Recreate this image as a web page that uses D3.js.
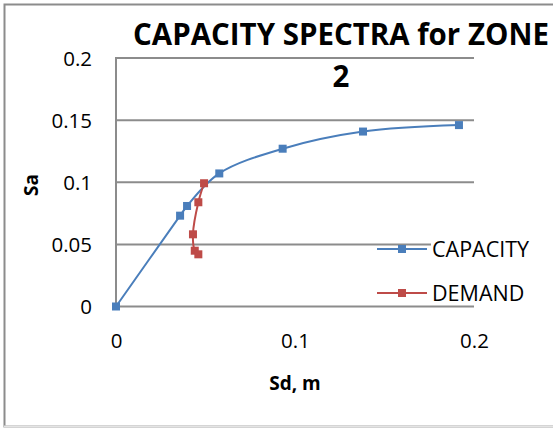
<!DOCTYPE html>
<html>
<head>
<meta charset="utf-8">
<script src="https://cdn.jsdelivr.net/npm/d3@7"></script>
<style>
  html, body { margin: 0; padding: 0; background: #fff; }
  svg { display: block; }
</style>
</head>
<body>
<svg id="chart" width="553" height="428"></svg>
<script>
// Spectral displacement (m) and spectral acceleration for each curve
const capacitySd = [0, 0.0358, 0.0397, 0.0577, 0.0931, 0.1380, 0.1916];
const capacitySa = [0, 0.0731, 0.0809, 0.1071, 0.1270, 0.1408, 0.1460];
const demandSd = [0.0492, 0.0460, 0.0430, 0.0440, 0.0460];
const demandSa = [0.0992, 0.0839, 0.0581, 0.0449, 0.0420];

const xTicks = [0, 0.1, 0.2];
const yTicks = [0, 0.05, 0.1, 0.15, 0.2];
const seriesNames = ["CAPACITY", "DEMAND"];
const seriesColors = ["#4a7ebb", "#be4b48"];

const svg = d3.select("#chart");
const font = "'Open Sans', 'Liberation Sans', sans-serif";

// chart frame
svg.append("rect").attr("x", 4.5).attr("y", 4.5).attr("width", 560).attr("height", 422)
  .attr("fill", "#fff").attr("stroke", "#8c8c8c").attr("stroke-width", 2);
svg.append("line").attr("x1", 4).attr("x2", 553).attr("y1", 426.5).attr("y2", 426.5)
  .attr("stroke", "#e4e4e4").attr("stroke-width", 2);

const x = d3.scaleLinear().domain([0, 0.2]).range([116, 474]);
const y = d3.scaleLinear().domain([0, 0.2]).range([306.5, 58]);

// horizontal gridlines
svg.append("g").selectAll("line").data(yTicks).join("line")
  .attr("x1", x(0)).attr("x2", x(0.2))
  .attr("y1", d => y(d)).attr("y2", d => y(d))
  .attr("stroke", "#8c8c8c").attr("stroke-width", 2);
// vertical axis line
svg.append("line").attr("x1", x(0)).attr("x2", x(0))
  .attr("y1", y(0.2) - 1).attr("y2", y(0) + 1)
  .attr("stroke", "#8c8c8c").attr("stroke-width", 2);

// axis tick labels
const yAxis = d3.axisLeft(y).tickValues(yTicks).tickSize(0).tickPadding(0)
  .tickFormat(d => String(+d.toFixed(2)));
const gy = svg.append("g").attr("transform", "translate(92,0)").call(yAxis);
gy.select(".domain").remove();
gy.selectAll("text").attr("font-family", font).attr("font-size", 20.5).attr("fill", "#000")
  .attr("dy", "0.35em");

const xAxis = d3.axisBottom(x).tickValues(xTicks).tickSize(0).tickPadding(0)
  .tickFormat(d => String(+d.toFixed(1)));
const gx = svg.append("g").attr("transform", "translate(0,341)").call(xAxis);
gx.select(".domain").remove();
gx.selectAll("text").attr("font-family", font).attr("font-size", 20.5).attr("fill", "#000")
  .attr("dy", "0.35em");

// axis titles
svg.append("text").attr("x", 295).attr("y", 383).attr("text-anchor", "middle")
  .attr("dy", "0.35em").attr("font-family", font).attr("font-weight", "bold")
  .attr("font-size", 19).text("Sd, m");
svg.append("text").attr("transform", "translate(31,185) rotate(-90)")
  .attr("text-anchor", "middle").attr("dy", "0.35em").attr("font-family", font)
  .attr("font-weight", "bold").attr("font-size", 19).text("Sa");

// title
const t1 = svg.append("text").attr("x", 341).attr("y", 45).attr("text-anchor", "middle")
  .attr("font-family", font).attr("font-weight", "bold").attr("font-size", 25)
  .text("CAPACITY SPECTRA for ZONE");
const w = t1.node().getComputedTextLength();
const fs = 25 * 416 / w;
t1.attr("font-size", fs);
svg.append("text").attr("x", 341).attr("y", 87).attr("text-anchor", "middle")
  .attr("font-family", font).attr("font-weight", "bold").attr("font-size", fs).text("2");

// series
const line = d3.line().x(d => x(d[0])).y(d => y(d[1])).curve(d3.curveCatmullRom.alpha(0.5));
const series = [
  d3.zip(capacitySd, capacitySa),
  d3.zip(demandSd, demandSa)
];
const ms = 8;
series.forEach((pts, i) => {
  svg.append("path").datum(pts).attr("d", line).attr("fill", "none")
    .attr("stroke", seriesColors[i]).attr("stroke-width", 2);
  svg.append("g").selectAll("rect").data(pts).join("rect")
    .attr("x", d => x(d[0]) - ms / 2).attr("y", d => y(d[1]) - ms / 2)
    .attr("width", ms).attr("height", ms).attr("fill", seriesColors[i]);
});

// legend
svg.append("rect").attr("x", 431).attr("y", 232).attr("width", 110).attr("height", 72)
  .attr("fill", "#fff");
const legY = [249, 293];
seriesNames.forEach((name, i) => {
  const g = svg.append("g");
  g.append("line").attr("x1", 377).attr("x2", 427).attr("y1", legY[i]).attr("y2", legY[i])
    .attr("stroke", seriesColors[i]).attr("stroke-width", 2);
  g.append("rect").attr("x", 402 - ms / 2).attr("y", legY[i] - ms / 2)
    .attr("width", ms).attr("height", ms).attr("fill", seriesColors[i]);
  g.append("text").attr("x", 432).attr("y", legY[i]).attr("dy", "0.35em")
    .attr("font-family", font).attr("font-size", 21.5).text(name);
});
</script>
</body>
</html>
